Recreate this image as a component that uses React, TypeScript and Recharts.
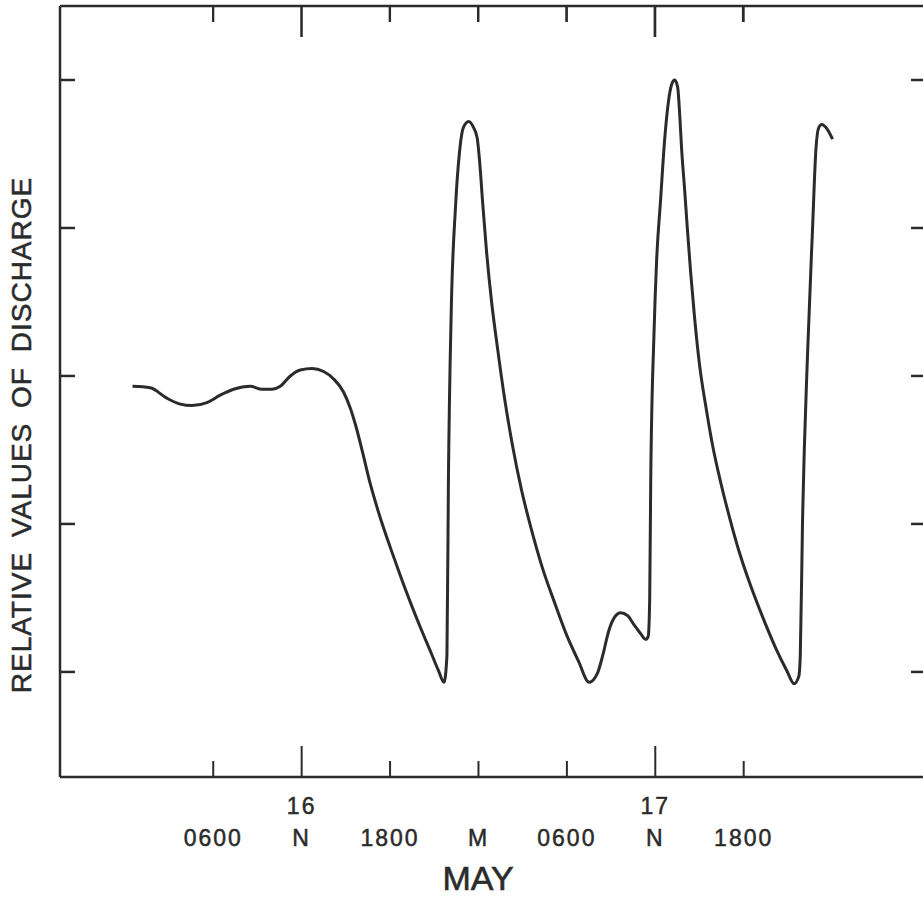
import React from 'react';
import { LineChart, Line, XAxis, YAxis, Label, ReferenceLine } from 'recharts';

// hours since 0000 on 16 May
const hours = [
  0.52, 1.72, 2.85, 3.76, 4.55, 5.57, 6.47, 7.38, 8.51, 9.31, 9.99, 10.55, 11.23, 11.91, 12.7, 13.49, 14.17,
  14.85, 15.31, 15.71, 16.12, 16.66, 17.34, 18.02, 18.7, 19.38, 20.06, 20.74, 21.28, 21.66,
  21.86, 21.96, 22.15, 22.44, 22.71, 22.98, 23.34, 23.66,
  23.91, 24.07, 24.27, 24.54, 24.88, 25.29, 25.77, 26.31, 26.92, 27.6, 28.35, 29.16, 29.98, 30.8, 31.51,
  32.07, 32.43, 32.85, 33.24, 33.65, 34.12, 34.55, 35.0, 35.35, 35.52, 35.62, 35.69, 35.91, 36.09, 36.36, 36.63, 36.9, 37.11, 37.32,
  37.52, 37.66, 37.79, 37.99, 38.18, 38.4, 38.67, 39.01, 39.42, 39.89, 40.44, 41.05, 41.73, 42.48, 43.29, 44.18, 44.92, 45.42,
  45.74, 45.84, 45.99, 46.33, 46.67, 46.9, 47.1, 47.3, 47.57, 48.03,
];

// relative discharge (tick marks at 1..5)
const discharge = [
  2.93, 2.92, 2.85, 2.81, 2.8, 2.82, 2.87, 2.91, 2.93, 2.91, 2.91, 2.93, 3.0, 3.04, 3.05, 3.03, 2.98,
  2.89, 2.78, 2.65, 2.49, 2.27, 2.04, 1.84, 1.65, 1.47, 1.3, 1.14, 1.01, 0.93,
  1.11, 2.29, 3.43, 4.14, 4.51, 4.68, 4.72, 4.68,
  4.61, 4.46, 4.19, 3.85, 3.51, 3.19, 2.85, 2.53, 2.23, 1.96, 1.7, 1.47, 1.25, 1.07, 0.93,
  0.99, 1.11, 1.28, 1.37, 1.4, 1.38, 1.32, 1.26, 1.22, 1.24, 1.49, 2.29, 3.28, 3.78, 4.19, 4.59, 4.86, 4.97, 5.0,
  4.95, 4.76, 4.53, 4.26, 3.99, 3.7, 3.39, 3.07, 2.8, 2.53, 2.28, 2.04, 1.8, 1.58, 1.37, 1.16, 1.01, 0.92,
  0.97, 1.11, 2.0, 3.14, 3.99, 4.53, 4.68, 4.7, 4.68, 4.6,
];

const xTicks = [6, 12, 18, 24, 30, 36, 42];
const xTickLabels = ['0600', 'N', '1800', 'M', '0600', 'N', '1800'];
const dayLabels = ['', '16', '', '', '', '17', ''];
const yTicks = [1, 2, 3, 4, 5];

const data = hours.map((h, i) => ({ h, v: discharge[i] }));

const INK = '#2b2b2b';
const FONT = '"Liberation Sans", Arial, sans-serif';
const X_DOMAIN: [number, number] = [-4.4, 54.44];
const Y_DOMAIN: [number, number] = [0.29, 5.5];
const PLOT = { left: 60, top: 6, width: 866, height: 771 };
const PX_PER_UNIT = PLOT.height / (Y_DOMAIN[1] - Y_DOMAIN[0]);
const hourToPx = (h: number) => PLOT.left + ((h - X_DOMAIN[0]) / (X_DOMAIN[1] - X_DOMAIN[0])) * PLOT.width;

const tickLen = (i: number) => (dayLabels[i] ? 31 : 16);

const textStyle = {
  fontSize: 23,
  letterSpacing: 2,
  fill: INK,
  stroke: INK,
  strokeWidth: 0.5,
  fontFamily: FONT,
};

const BottomTick = (props: any) => {
  const { x, y, index } = props;
  return (
    <g>
      <line x1={x} y1={y} x2={x} y2={y - tickLen(index)} stroke={INK} strokeWidth={2} />
      {dayLabels[index] && (
        <text x={x} y={y + 37} textAnchor="middle" {...textStyle}>
          {dayLabels[index]}
        </text>
      )}
      <text x={x} y={y + 69} textAnchor="middle" {...textStyle}>
        {xTickLabels[index]}
      </text>
    </g>
  );
};

// left tick plus its mirror on the right border
const SideTick = (props: any) => {
  const { x, y } = props;
  const right = x + PLOT.width;
  return (
    <g>
      <line x1={x} y1={y} x2={x + 15} y2={y} stroke={INK} strokeWidth={2.5} />
      <line x1={right} y1={y} x2={right - 15} y2={y} stroke={INK} strokeWidth={2.5} />
    </g>
  );
};

const MayLabel = () => (
  <text x={478} y={890} textAnchor="middle" fontSize={34} fill={INK} stroke={INK} strokeWidth={0.6} fontFamily={FONT}>
    MAY
  </text>
);

// inward tick marks hanging from the top border, layered over the chart
const TopTicks = () => (
  <svg
    width={923}
    height={60}
    style={{ position: 'absolute', left: 0, top: 0, pointerEvents: 'none', zIndex: 5 }}
  >
    {xTicks.map((t, i) => (
      <line
        key={t}
        x1={hourToPx(t)}
        y1={PLOT.top}
        x2={hourToPx(t)}
        y2={PLOT.top + tickLen(i)}
        stroke={INK}
        strokeWidth={2}
      />
    ))}
  </svg>
);

export default function App() {
  return (
    <div style={{ position: 'absolute', left: 0, top: 0, width: 923, height: 898, overflow: 'hidden', background: '#fff' }}>
      <LineChart width={940} height={898} data={data} margin={{ top: 5, right: 13, left: 59, bottom: 0 }}>
        <XAxis
          xAxisId="bottom"
          dataKey="h"
          type="number"
          domain={X_DOMAIN}
          ticks={xTicks}
          interval={0}
          height={121}
          tickSize={0}
          tickMargin={0}
          tickLine={false}
          tick={<BottomTick />}
          axisLine={{ stroke: INK, strokeWidth: 2.5 }}
        >
          <Label content={<MayLabel />} />
        </XAxis>
        <XAxis
          xAxisId="top"
          orientation="top"
          type="number"
          domain={X_DOMAIN}
          height={1}
          tick={false}
          tickLine={false}
          axisLine={{ stroke: INK, strokeWidth: 2.5 }}
        />
        <YAxis
          yAxisId="left"
          type="number"
          domain={Y_DOMAIN}
          ticks={yTicks}
          interval={0}
          width={1}
          tickSize={0}
          tickMargin={0}
          tickLine={false}
          tick={<SideTick />}
          axisLine={{ stroke: INK, strokeWidth: 2.5 }}
        >
          <Label
            content={() => (
              <text
                x={0}
                y={0}
                transform="translate(31 435) rotate(-90)"
                textAnchor="middle"
                fontSize={28}
                letterSpacing={1}
                wordSpacing={6}
                fill={INK}
                stroke={INK}
                strokeWidth={0.5}
                fontFamily={FONT}
              >
                RELATIVE VALUES OF DISCHARGE
              </text>
            )}
          />
        </YAxis>
        {xTicks.map((t, i) => (
          <ReferenceLine
            key={t}
            xAxisId="bottom"
            yAxisId="left"
            segment={[
              { x: t, y: Y_DOMAIN[1] },
              { x: t, y: Y_DOMAIN[1] - tickLen(i) / PX_PER_UNIT },
            ]}
            stroke={INK}
            strokeWidth={2}
            ifOverflow="visible"
          />
        ))}
        <Line
          xAxisId="bottom"
          yAxisId="left"
          dataKey="v"
          type="monotone"
          stroke={INK}
          strokeWidth={3}
          dot={false}
          isAnimationActive={false}
        />
      </LineChart>
      <TopTicks />
    </div>
  );
}
